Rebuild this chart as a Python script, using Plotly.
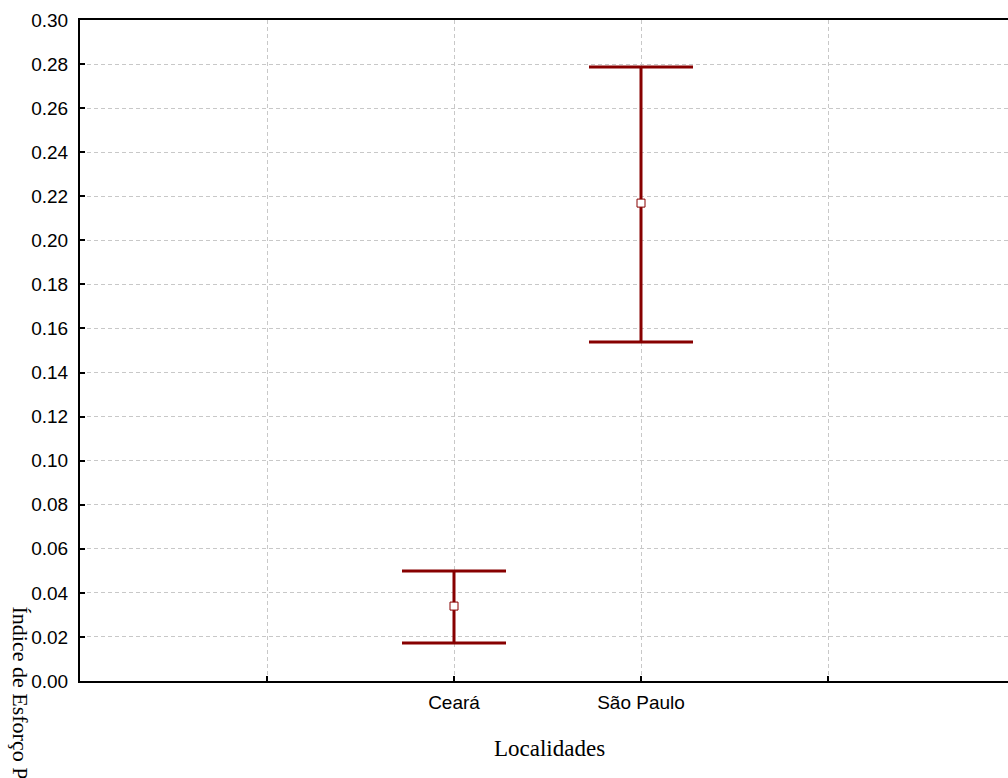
import plotly.graph_objects as go

# Mean effort index per locality with upper/lower interval limits
localidades = ["Ceará", "São Paulo"]
media = [0.0340, 0.2169]
limite_superior = [0.0499, 0.2787]
limite_inferior = [0.0172, 0.1539]

# Numeric slots on the x axis (grid every unit, localities in the middle)
posicoes = [2, 3]
grade_x = [1, 2, 3, 4]
rotulos_x = ["", "Ceará", "São Paulo", ""]
ticks_y = [round(0.02 * i, 2) for i in range(16)]

erro_mais = [s - m for s, m in zip(limite_superior, media)]
erro_menos = [m - i for m, i in zip(media, limite_inferior)]

cor = "#870000"

fig = go.Figure()
fig.add_trace(go.Scatter(
    x=posicoes,
    y=media,
    mode="markers",
    marker=dict(symbol="square", size=8, color="white",
                line=dict(color=cor, width=1)),
    error_y=dict(type="data", symmetric=False, array=erro_mais,
                 arrayminus=erro_menos, color=cor, thickness=3, width=52),
    showlegend=False,
    hoverinfo="skip",
))

fig.update_layout(
    width=1008,
    height=778,
    margin=dict(l=80, r=0, t=20, b=97),
    paper_bgcolor="white",
    plot_bgcolor="white",
    font=dict(family="Liberation Sans, Arial, sans-serif", size=19, color="black"),
    xaxis=dict(
        range=[0, 928 / 187],
        tickvals=grade_x,
        ticktext=rotulos_x,
        ticks="inside",
        ticklen=5,
        tickwidth=2,
        tickcolor="black",
        showline=True,
        linewidth=2,
        linecolor="black",
        mirror=True,
        showgrid=True,
        gridcolor="#c8c8c8",
        gridwidth=1,
        griddash="4px,3px",
        zeroline=False,
        ticklabelstandoff=3,
    ),
    yaxis=dict(
        range=[0, 0.30],
        tickvals=ticks_y,
        tickformat=".2f",
        ticks="inside",
        ticklen=5,
        tickwidth=2,
        tickcolor="black",
        showline=True,
        linewidth=2,
        linecolor="black",
        showgrid=True,
        gridcolor="#c8c8c8",
        gridwidth=1,
        griddash="4px,3px",
        zeroline=False,
        ticklabelstandoff=6,
    ),
    annotations=[
        dict(text="Localidades", xref="paper", yref="paper",
             x=(549 - 80) / 928, y=(681 - 748) / 661,
             xanchor="center", yanchor="middle", showarrow=False,
             font=dict(family="Liberation Serif, Times New Roman, serif", size=23)),
        dict(text="Índice de Esforço Pesqueiro", xref="paper", yref="paper",
             x=(20 - 80) / 928, y=(681 - 604) / 661,
             xanchor="center", yanchor="top", textangle=90, showarrow=False,
             font=dict(family="Liberation Serif, Times New Roman, serif", size=22)),
    ],
)

fig.write_html("out.html")
